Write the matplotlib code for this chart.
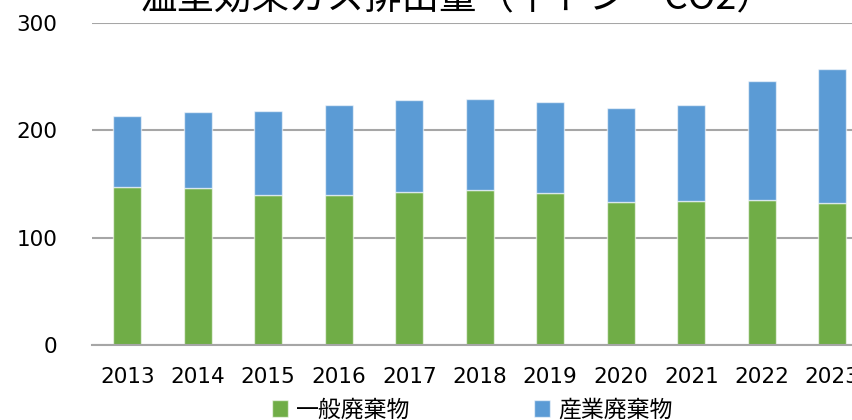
import matplotlib
matplotlib.use("Agg")
import matplotlib.pyplot as plt

years = ["2013", "2014", "2015", "2016", "2017", "2018",
         "2019", "2020", "2021", "2022", "2023"]
general_waste = [147, 146, 140, 140, 143, 144, 142, 133, 134, 135, 132]
industrial_waste = [66, 71, 78, 84, 85, 85, 84, 88, 90, 111, 125]
yticks = [0, 100, 200, 300]
title = "温室効果ガス排出量（千トン－CO2）"
series_names = ["一般廃棄物", "産業廃棄物"]

plt.rcParams["font.family"] = ["Noto Sans CJK JP", "DejaVu Sans"]

fig = plt.figure(figsize=(8.52, 4.2), dpi=100)
ax = fig.add_axes([92 / 852, 75 / 420, 775.5 / 852, 322 / 420])

x = list(range(len(years)))
edge = (1, 1, 1, 0.6)
ax.bar(x, general_waste, width=0.4, color="#70AD47", edgecolor=edge,
       linewidth=1, label=series_names[0], zorder=2)
ax.bar(x, industrial_waste, width=0.4, bottom=general_waste,
       color="#5B9BD5", edgecolor=edge, linewidth=1,
       label=series_names[1], zorder=2)

ax.set_xlim(-0.5, len(years) - 0.5)
ax.set_ylim(0, 300)
ax.set_yticks(yticks)
ax.set_xticks(x)
ax.set_xticklabels(years)
ax.grid(axis="y", color="#A6A6A6", linewidth=1.5, zorder=0)
for side in ["top", "right", "left"]:
    ax.spines[side].set_visible(False)
ax.spines["bottom"].set_color("#A6A6A6")
ax.spines["bottom"].set_linewidth(1.5)
ax.tick_params(axis="both", length=0, colors="#000000")
ax.tick_params(axis="y", pad=25)
ax.tick_params(axis="x", pad=16)
for lab in ax.get_xticklabels() + ax.get_yticklabels():
    lab.set_fontfamily("DejaVu Sans")
    lab.set_fontsize(15.5)

fig.text(457 / 852, 1 - 8 / 420, title, ha="center", va="baseline",
         fontsize=27)

fig.legend(loc="center", bbox_to_anchor=(472 / 852, 10 / 420), ncol=2,
           frameon=False, fontsize=16.5, handlelength=0.7, handleheight=0.7,
           handletextpad=0.35, columnspacing=5.4)

fig.savefig("out.png", dpi=100)
